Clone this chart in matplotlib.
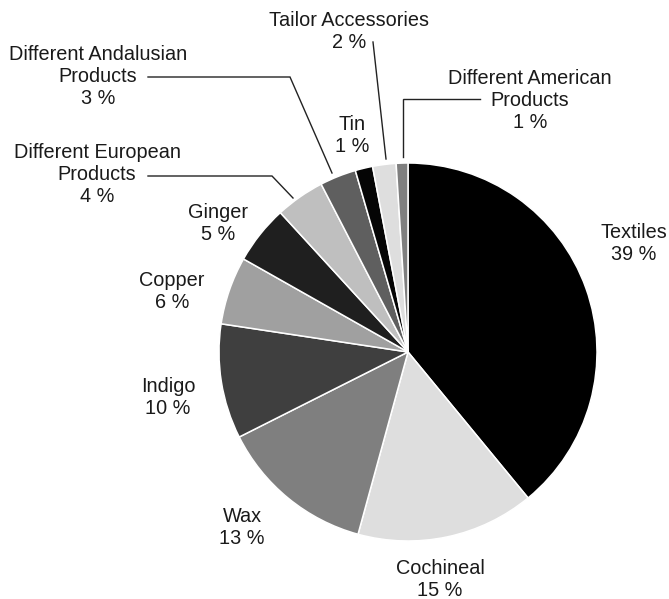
import matplotlib
matplotlib.use("Agg")
import matplotlib.pyplot as plt

# goods and their share of the cargo value (percent)
CATEGORIES = [
    "Textiles", "Cochineal", "Wax", "Indigo", "Copper", "Ginger",
    "Different European\nProducts", "Different Andalusian\nProducts",
    "Tin", "Tailor Accessories", "Different American\nProducts",
]
SHARES = [39.0, 15.2, 13.3, 9.8, 5.8, 5.0, 4.2, 3.1, 1.49, 2.0, 1.0]

GRAYS = ["#000000", "#dedede", "#7f7f7f", "#3f3f3f", "#a0a0a0", "#1f1f1f",
         "#bfbfbf", "#5f5f5f", "#050505", "#dedede", "#7f7f7f"]

W, H = 669, 599
CENTER = (408, H - 352)
RADIUS = 189

# label anchors in pixel coordinates (x, y from top)
LABEL_POS = [
    (634, 243), (440, 579), (242, 527), (168, 397), (172, 292), (218, 223),
    (97, 175), (98, 76), (352, 136), (349, 31), (530, 100),
]

# leader lines, pixel coordinates from top
LEADERS = {
    6: [(148, 176), (272, 176), (293, 198)],
    7: [(148, 77), (290, 77), (332, 173)],
    9: [(373, 42), (386, 159)],
    10: [(480, 99), (403, 99), (403, 157)],
}

TEXT_COLOR = "#1a1a1a"


def main():
    plt.rcParams["font.family"] = ["Liberation Sans", "DejaVu Sans"]

    fig = plt.figure(figsize=(W / 100, H / 100), dpi=100)
    ax = fig.add_axes([0, 0, 1, 1])

    ax.pie(SHARES, colors=GRAYS, startangle=90, counterclock=False,
           center=CENTER, radius=RADIUS,
           wedgeprops=dict(edgecolor="white", linewidth=1.1))
    ax.set_xlim(0, W)
    ax.set_ylim(0, H)
    ax.set_aspect("equal")
    ax.axis("off")

    for name, share, (px, py) in zip(CATEGORIES, SHARES, LABEL_POS):
        ax.text(px, H - py, f"{name}\n{share:.0f} %", ha="center", va="center",
                fontsize=14.3, color=TEXT_COLOR, linespacing=1.2)

    for pts in LEADERS.values():
        xs = [p[0] for p in pts]
        ys = [H - p[1] for p in pts]
        ax.plot(xs, ys, color="#222222", lw=1.0, solid_joinstyle="miter")

    fig.savefig("out.png", dpi=100, facecolor="white")
    plt.close(fig)


if __name__ == "__main__":
    main()
